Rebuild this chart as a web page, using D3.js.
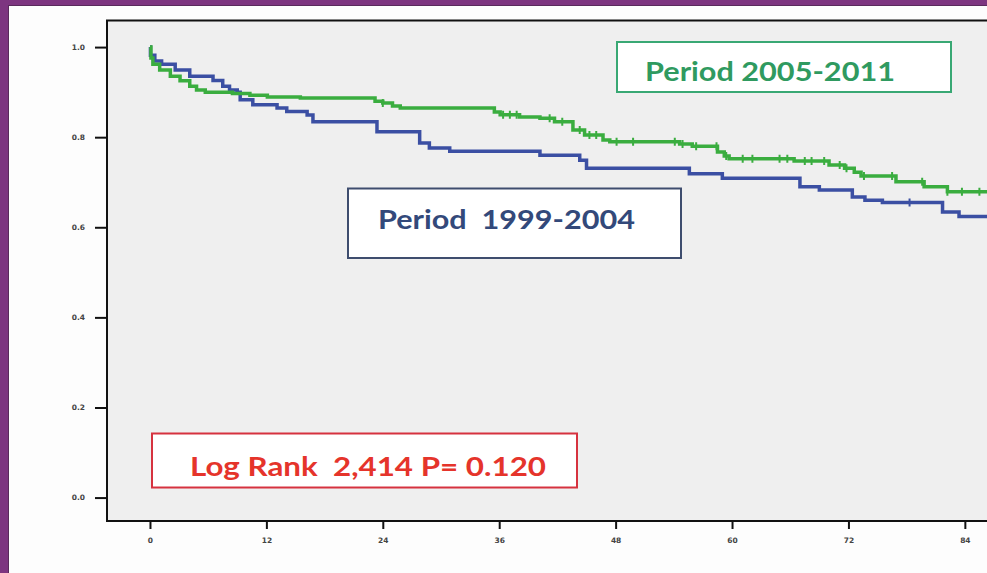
<!DOCTYPE html>
<html>
<head>
<meta charset="utf-8">
<script src="https://cdn.jsdelivr.net/npm/d3@7"></script>
<style>
  html, body { margin: 0; padding: 0; background: #fdfdfd; }
  svg { display: block; }
</style>
</head>
<body>
<svg id="chart" width="987" height="573"></svg>
<script>
// Kaplan-Meier survival, two treatment periods (months on x, survival fraction on y)
const xTicks = [0, 12, 24, 36, 48, 60, 72, 84];
const yTicks = [0.0, 0.2, 0.4, 0.6, 0.8, 1.0];
const yTickLabels = ["0.0", "0.2", "0.4", "0.6", "0.8", "1.0"];

// Period 2005-2011: event times (months) and survival after each event
const greenTimes = [0, 0.1, 0.3, 1.0, 2.1, 3.1, 4.1, 4.8, 5.7, 8.5, 10.3, 12.1, 15.5,
  23.2, 24.0, 25.0, 25.8, 35.5, 36.1, 38.1, 40.2, 41.7, 43.6, 44.8, 46.7, 47.4,
  54.6, 55.9, 58.5, 59.2, 59.7, 66.4, 70.0, 71.6, 72.6, 73.3, 76.9, 79.8, 82.2];
const greenSurv = [1.000, 0.976, 0.962, 0.949, 0.935, 0.925, 0.913, 0.905, 0.900, 0.897, 0.893, 0.889, 0.887,
  0.880, 0.876, 0.869, 0.865, 0.856, 0.850, 0.845, 0.842, 0.834, 0.816, 0.805, 0.794, 0.790,
  0.785, 0.780, 0.767, 0.758, 0.752, 0.747, 0.738, 0.731, 0.722, 0.714, 0.701, 0.690, 0.679];
const greenCensored = [24.0, 36.4, 37.1, 37.8, 41.2, 42.5, 44.3, 45.3, 46.0, 48.1, 49.8, 54.1, 54.9,
  56.3, 58.4, 59.4, 61.1, 62.1, 64.9, 65.7, 67.5, 68.2, 69.5, 71.1, 71.8, 73.6, 76.5, 79.6,
  82.2, 83.7, 85.5];
const greenLastFollowUp = 86.5;

// Period 1999-2004
const blueTimes = [0, 0.05, 0.5, 1.2, 2.6, 4.1, 6.5, 7.5, 8.2, 9.0, 9.3, 10.6, 13.1, 14.1,
  16.2, 16.8, 23.4, 27.8, 28.8, 30.9, 40.2, 44.3, 45.0, 55.6, 59.0, 67.0, 69.0, 72.4,
  73.7, 75.5, 81.7, 83.4];
const blueSurv = [1.000, 0.982, 0.969, 0.962, 0.949, 0.935, 0.926, 0.913, 0.905, 0.900, 0.883, 0.872, 0.865, 0.857,
  0.849, 0.834, 0.812, 0.787, 0.776, 0.769, 0.760, 0.749, 0.731, 0.719, 0.709, 0.690, 0.683, 0.667,
  0.660, 0.655, 0.634, 0.624];
const blueCensored = [78.3];
const blueLastFollowUp = 86.5;

const legendGreen = "Period 2005-2011";
const legendBlue = "Period  1999-2004";
const statText = "Log Rank  2,414 P= 0.120";

const svg = d3.select("#chart");

// Page frame
svg.append("rect").attr("x", 0).attr("y", 0).attr("width", 987).attr("height", 573).attr("fill", "#fdfdfd");
svg.append("rect").attr("x", 0).attr("y", 0).attr("width", 987).attr("height", 5).attr("fill", "#7d3580");
svg.append("rect").attr("x", 0).attr("y", 0).attr("width", 8).attr("height", 573).attr("fill", "#7d3580");
svg.append("line").attr("x1", 8).attr("x2", 987).attr("y1", 5.5).attr("y2", 5.5)
  .attr("stroke", "#5a2a5c").attr("stroke-width", 1);
svg.append("line").attr("x1", 8.5).attr("x2", 8.5).attr("y1", 5).attr("y2", 573)
  .attr("stroke", "#5a2a5c").attr("stroke-width", 1);

// Plot area
const plot = { left: 107, top: 20.5, right: 987, bottom: 521 };

const x = d3.scaleLinear().domain([-4.43, 90.2]).range([plot.left, plot.right + 38]);
const y = d3.scaleLinear().domain([-0.052, 1.059]).range([plot.bottom, plot.top]);

svg.append("rect")
  .attr("x", plot.left).attr("y", plot.top)
  .attr("width", plot.right - plot.left + 10).attr("height", plot.bottom - plot.top)
  .attr("fill", "#efefef");

svg.append("defs").append("clipPath").attr("id", "plotClip")
  .append("rect")
  .attr("x", plot.left).attr("y", plot.top)
  .attr("width", plot.right - plot.left).attr("height", plot.bottom - plot.top);

// Survival step curves
function steps(times, surv, lastT) {
  const pts = times.map((t, i) => ({ t, s: surv[i] }));
  pts.push({ t: lastT, s: surv[surv.length - 1] });
  return pts;
}
function survivalAt(times, surv, t) {
  let s = surv[0];
  for (let i = 0; i < times.length; i++) if (times[i] <= t) s = surv[i];
  return s;
}

const line = d3.line().x(d => x(d.t)).y(d => y(d.s)).curve(d3.curveStepAfter);

const curves = svg.append("g").attr("clip-path", "url(#plotClip)");

const series = [
  { times: blueTimes, surv: blueSurv, cens: blueCensored, last: blueLastFollowUp, color: "#3b4fa3" },
  { times: greenTimes, surv: greenSurv, cens: greenCensored, last: greenLastFollowUp, color: "#3aad3f" }
];

series.forEach(sr => {
  curves.append("path")
    .datum(steps(sr.times, sr.surv, sr.last))
    .attr("d", line)
    .attr("fill", "none")
    .attr("stroke", sr.color)
    .attr("stroke-width", 3.5)
    .attr("stroke-linejoin", "miter");
  curves.selectAll(null)
    .data(sr.cens)
    .join("line")
    .attr("x1", d => x(d)).attr("x2", d => x(d))
    .attr("y1", d => y(survivalAt(sr.times, sr.surv, d)) - 4)
    .attr("y2", d => y(survivalAt(sr.times, sr.surv, d)) + 4)
    .attr("stroke", sr.color)
    .attr("stroke-width", 2);
});

// Axes
const yAxis = d3.axisLeft(y)
  .tickValues(yTicks)
  .tickFormat((d, i) => yTickLabels[i])
  .tickSizeInner(12).tickSizeOuter(0).tickPadding(10);
const gy = svg.append("g").attr("transform", `translate(${plot.left},0)`).call(yAxis);

const xAxis = d3.axisBottom(x)
  .tickValues(xTicks)
  .tickFormat(d3.format("d"))
  .tickSizeInner(8).tickSizeOuter(0).tickPadding(9);
const gx = svg.append("g").attr("transform", `translate(0,${plot.bottom})`).call(xAxis);

[gx, gy].forEach(g => {
  g.select(".domain").remove();
  g.selectAll(".tick line").attr("stroke", "#111").attr("stroke-width", 2);
  g.selectAll(".tick text")
    .attr("fill", "#444")
    .style("font-family", "'DejaVu Sans', sans-serif")
    .style("font-weight", "bold")
    .style("font-size", "7.5px");
});

// Plot frame
svg.append("path")
  .attr("d", `M${plot.right + 5},${plot.top} H${plot.left} V${plot.bottom} H${plot.right + 5}`)
  .attr("fill", "none").attr("stroke", "#111").attr("stroke-width", 2);

// Annotation boxes
const boxes = [
  { x: 617, y: 42, w: 334, h: 50, text: legendGreen, tx: 645, ty: 81, tw: 250,
    stroke: "#39a874", fill: "#2f9a60" },
  { x: 348, y: 188.5, w: 333, h: 69.5, text: legendBlue, tx: 378, ty: 229, tw: 257,
    stroke: "#3e4d6e", fill: "#33497a" },
  { x: 152, y: 433.5, w: 425, h: 54, text: statText, tx: 190, ty: 476, tw: 356,
    stroke: "#d6323f", fill: "#e5342b" }
];

const boxG = svg.append("g");
boxes.forEach(b => {
  boxG.append("rect")
    .attr("x", b.x).attr("y", b.y).attr("width", b.w).attr("height", b.h)
    .attr("fill", "#ffffff").attr("stroke", b.stroke).attr("stroke-width", 2);
  boxG.append("text")
    .attr("x", b.tx).attr("y", b.ty)
    .attr("textLength", b.tw).attr("lengthAdjust", "spacingAndGlyphs")
    .attr("fill", b.fill)
    .style("white-space", "pre")
    .style("font-family", "Lato, 'Open Sans', sans-serif")
    .style("font-weight", "bold")
    .style("font-size", "26px")
    .text(b.text);
});
</script>
</body>
</html>
